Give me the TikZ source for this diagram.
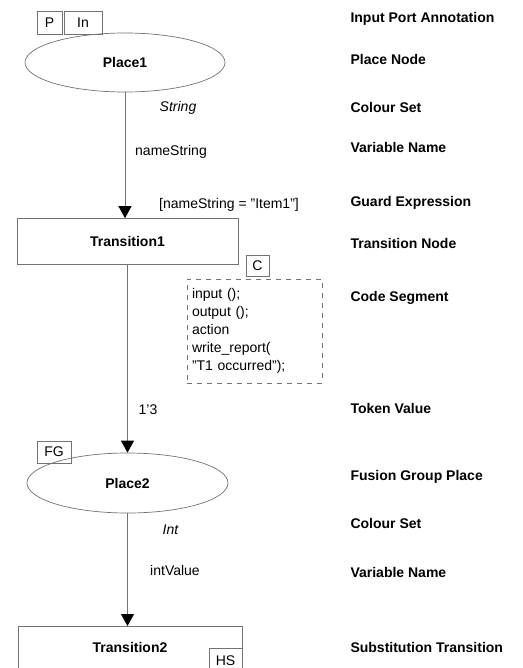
\documentclass[tikz,border=0pt]{standalone}
\usepackage{fontspec}
\setmainfont{Liberation Sans}
\usetikzlibrary{shapes.geometric,arrows.meta}

\newcommand{\netfont}{\fontsize{14}{18}\selectfont}

\tikzset{
  place/.style={ellipse,draw=black!55,line width=0.7pt,inner sep=0pt,font=\netfont\bfseries},
  trans/.style={rectangle,draw=black!55,line width=0.7pt,inner sep=0pt,font=\netfont\bfseries},
  tag/.style={rectangle,draw=black!55,line width=0.7pt,inner sep=0pt},
  codebox/.style={rectangle,draw=black!55,line width=0.7pt,dash pattern=on 5pt off 5pt,
    inner sep=5pt,align=left,text width=125pt,minimum height=104pt},
  arc/.style={draw=black!55,line width=0.8pt,-{Triangle[width=13pt,length=12pt,fill=black,color=black]}},
  note/.style={anchor=west,font=\netfont\bfseries},
}

\begin{document}
\begin{tikzpicture}[x=1pt,y=-1pt,font=\netfont]

  \useasboundingbox (0,0) rectangle (522,668);
  \clip (0,0) rectangle (522,668);

  % net
  \node[place,minimum width=200pt,minimum height=59pt] (place1) at (125,62.5) {Place1};
  \node[trans,minimum width=221pt,minimum height=46pt] (trans1) at (127.5,241.5) {Transition1};
  \node[place,minimum width=201pt,minimum height=60pt] (place2) at (127.5,483) {Place2};
  \node[trans,minimum width=224pt,inner ysep=16pt,text height=10pt,text depth=18pt,anchor=north] (trans2) at (130,626) {Transition2};

  % tags
  \node[tag,minimum width=25pt,minimum height=23pt] (ptag)  at (49.5,22.5) {P};
  \node[tag,minimum width=38pt,minimum height=23pt] (intag) at (83,22.5)   {In};
  \node[tag,minimum width=23pt,minimum height=21pt] (ctag)  at (257.5,265.5) {C};
  \node[tag,minimum width=34pt,minimum height=22pt] (fgtag) at (54,452)    {FG};
  \node[tag,minimum width=33pt,minimum height=24pt,anchor=north] (hstag) at (225.5,648) {HS};

  \node[codebox] (code) at (254.5,331) {input ();\\output ();\\action\\write\_report(\\"T1 occurred");};

  % arcs
  \draw[arc] (place1) -- (place1 |- trans1.north);
  \draw[arc] (trans1) -- (place2);
  \draw[arc] (place2) -- (place2 |- trans2.north);

  % inscriptions
  \node (cs1)   at (178,108)   {\itshape String};
  \node (var1)  at (171,152)   {nameString};
  \node (guard) at (229,205)   {[nameString = "Item1"]};
  \node (tok)   at (148,410)   {1'3};
  \node (cs2)   at (170.5,530) {\itshape Int};
  \node (var2)  at (175,570)   {intValue};

  % legend
  \node[note] (n1)  at (347,19)  {Input Port Annotation};
  \node[note] (n2)  at (347,59)  {Place Node};
  \node[note] (n3)  at (347,107) {Colour Set};
  \node[note] (n4)  at (347,147) {Variable Name};
  \node[note] (n5)  at (347,203) {Guard Expression};
  \node[note] (n6)  at (347,243) {Transition Node};
  \node[note] (n7)  at (347,298) {Code Segment};
  \node[note] (n8)  at (347,408) {Token Value};
  \node[note] (n9)  at (347,477) {Fusion Group Place};
  \node[note] (n10) at (347,523) {Colour Set};
  \node[note] (n11) at (347,572) {Variable Name};
  \node[note] (n12) at (347,647) {Substitution Transition};

\end{tikzpicture}
\end{document}
